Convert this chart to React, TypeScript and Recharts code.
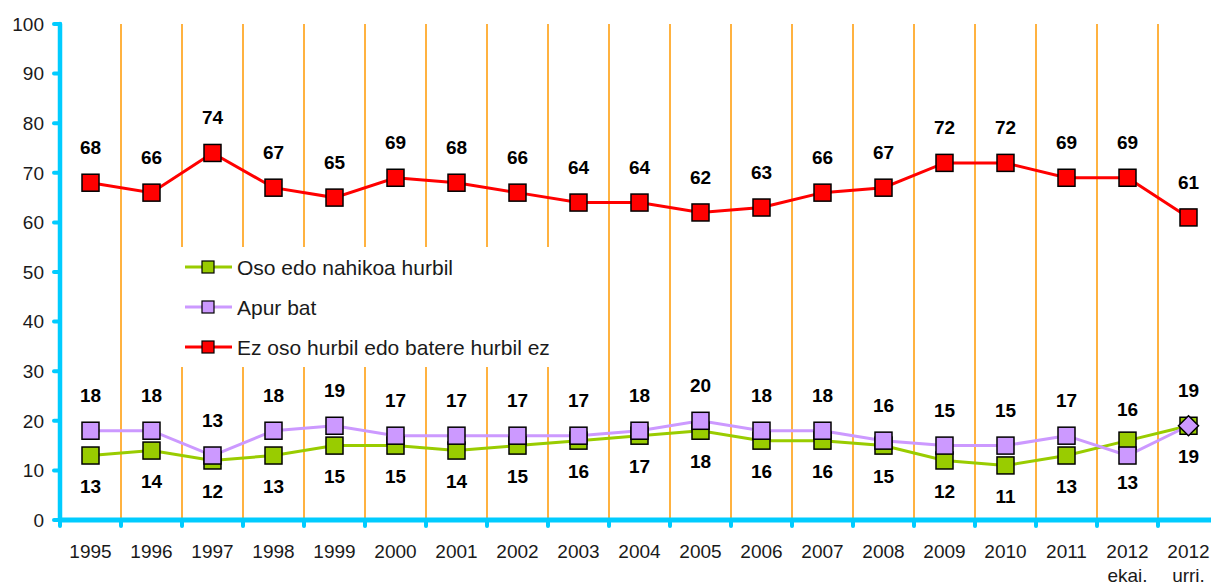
import React from 'react';
import { LineChart, Line, XAxis, YAxis, CartesianGrid, Legend, LabelList } from 'recharts';

const years = ['1995', '1996', '1997', '1998', '1999', '2000', '2001', '2002', '2003', '2004', '2005', '2006', '2007', '2008', '2009', '2010', '2011', '2012', '2012'];
const yearSub = ['', '', '', '', '', '', '', '', '', '', '', '', '', '', '', '', '', 'ekai.', 'urri.'];
const closeVals = [13, 14, 12, 13, 15, 15, 14, 15, 16, 17, 18, 16, 16, 15, 12, 11, 13, 16, 19];
const aBitVals = [18, 18, 13, 18, 19, 17, 17, 17, 17, 18, 20, 18, 18, 16, 15, 15, 17, 13, 19];
const notCloseVals = [68, 66, 74, 67, 65, 69, 68, 66, 64, 64, 62, 63, 66, 67, 72, 72, 69, 69, 61];
const yTicks = [0, 10, 20, 30, 40, 50, 60, 70, 80, 90, 100];
const seriesNames = ['Oso edo nahikoa hurbil', 'Apur bat', 'Ez oso hurbil edo batere hurbil ez'];
const seriesColors = ['#99CC00', '#CC99FF', '#FF0000'];

const data = years.map((y, i) => ({
  idx: i,
  close: closeVals[i],
  abit: aBitVals[i],
  notClose: notCloseVals[i],
}));
const centerTicks = years.map((_, i) => i);
const boundaryTicks = years.map((_, i) => i - 0.5);
const xDomain: [number, number] = [-0.5, years.length - 0.5];

const AXIS = '#00CCFF';
const FONT = '"Liberation Sans", Arial, sans-serif';

const makeDot = (color: string, diamondLast = false) => (props: any) => {
  const { cx, cy, index } = props;
  if (cx == null || cy == null) return <g key={`n-${index}`} />;
  if (diamondLast && index === years.length - 1) {
    const r = 10;
    return (
      <polygon
        key={`d-${index}`}
        points={`${cx},${cy - r} ${cx + r},${cy} ${cx},${cy + r} ${cx - r},${cy}`}
        fill={color}
        stroke="#000"
        strokeWidth={1.5}
      />
    );
  }
  const s = 17;
  return <rect key={`d-${index}`} x={cx - s / 2} y={cy - s / 2} width={s} height={s} fill={color} stroke="#000" strokeWidth={1.5} />;
};

const labelText = (x: number, y: number, value: any, key: string) => (
  <text key={key} x={x} y={y} textAnchor="middle" dominantBaseline="central" fontFamily={FONT} fontWeight="bold" fontSize={19} fill="#000">
    {value}
  </text>
);

const ABOVE = 35;
const BELOW = 31;

const redLabel = (props: any) => {
  const { x, y, value, index } = props;
  return labelText(x, y - ABOVE, value, `r-${index}`);
};
const greenLabel = (props: any) => {
  const { x, y, value, index } = props;
  const above = closeVals[index] > aBitVals[index];
  return labelText(x, above ? y - ABOVE + 4 : y + BELOW, value, `g-${index}`);
};
const purpleLabel = (props: any) => {
  const { x, y, value, index } = props;
  const above = aBitVals[index] >= closeVals[index];
  return labelText(x, above ? y - ABOVE : y + BELOW - 4, value, `p-${index}`);
};

const EmptyTick = () => <g />;

const XTick = (props: any) => {
  const { x, y, payload } = props;
  const i = payload.value;
  return (
    <g>
      <text x={x} y={y + 29} textAnchor="middle" fontFamily={FONT} fontSize={19} fill="#1a1a1a">
        {years[i]}
      </text>
      {yearSub[i] ? (
        <text x={x} y={y + 53} textAnchor="middle" fontFamily={FONT} fontSize={19} fill="#1a1a1a">
          {yearSub[i]}
        </text>
      ) : null}
    </g>
  );
};

const renderLegend = () => (
  <svg width={378} height={122} style={{ display: 'block' }}>
    {seriesNames.map((n, i) => {
      const cy = 20 + 40 * i;
      return (
        <g key={n}>
          <line x1={7} x2={54} y1={cy} y2={cy} stroke={seriesColors[i]} strokeWidth={3} />
          <rect x={24} y={cy - 6} width={12} height={12} fill={seriesColors[i]} stroke="#000" strokeWidth={1.2} />
          <text x={59} y={cy} dominantBaseline="central" fontFamily={FONT} fontSize={21} fill="#1a1a1a">
            {n}
          </text>
        </g>
      );
    })}
  </svg>
);

export default function App() {
  return (
    <div style={{ position: 'absolute', left: 0, top: 0, width: 1211, height: 586, overflow: 'hidden', background: '#fff' }}>
      <LineChart width={1225} height={586} data={data} margin={{ top: 24, right: 6, left: 0, bottom: 0 }} style={{ fontFamily: FONT }}>
        <CartesianGrid xAxisId="b" horizontal={false} vertical stroke="#FF9900" strokeWidth={1.5} />
        <XAxis
          xAxisId="b"
          type="number"
          dataKey="idx"
          domain={xDomain}
          allowDataOverflow
          ticks={boundaryTicks}
          tick={<EmptyTick />}
          tickLine={{ stroke: AXIS, strokeWidth: 4, strokeLinecap: 'round' }}
          tickSize={6}
          axisLine={{ stroke: AXIS, strokeWidth: 5 }}
          height={1}
          interval={0}
        />
        <XAxis
          xAxisId="c"
          type="number"
          dataKey="idx"
          domain={xDomain}
          allowDataOverflow
          ticks={centerTicks}
          axisLine={false}
          tickLine={false}
          tick={<XTick />}
          height={65}
          interval={0}
        />
        <YAxis
          width={60}
          domain={[0, 100]}
          ticks={yTicks}
          interval={0}
          axisLine={{ stroke: AXIS, strokeWidth: 4.5, strokeLinecap: 'round' }}
          tickLine={{ stroke: AXIS, strokeWidth: 4, strokeLinecap: 'round' }}
          tickSize={6}
          tickMargin={10}
          tick={{ fill: '#1a1a1a', fontSize: 19, fontFamily: FONT }}
        />
        <Legend
          layout="vertical"
          align="center"
          verticalAlign="middle"
          content={renderLegend}
          wrapperStyle={{ left: 178, top: 247, width: 378, height: 120, background: '#fff' }}
        />
        <Line xAxisId="c" type="linear" dataKey="close" name={seriesNames[0]} stroke={seriesColors[0]} strokeWidth={3} dot={makeDot(seriesColors[0])} activeDot={false} isAnimationActive={false}>
          <LabelList dataKey="close" content={greenLabel} />
        </Line>
        <Line xAxisId="c" type="linear" dataKey="abit" name={seriesNames[1]} stroke={seriesColors[1]} strokeWidth={3} dot={makeDot(seriesColors[1], true)} activeDot={false} isAnimationActive={false}>
          <LabelList dataKey="abit" content={purpleLabel} />
        </Line>
        <Line xAxisId="c" type="linear" dataKey="notClose" name={seriesNames[2]} stroke={seriesColors[2]} strokeWidth={3} dot={makeDot(seriesColors[2])} activeDot={false} isAnimationActive={false}>
          <LabelList dataKey="notClose" content={redLabel} />
        </Line>
      </LineChart>
    </div>
  );
}
